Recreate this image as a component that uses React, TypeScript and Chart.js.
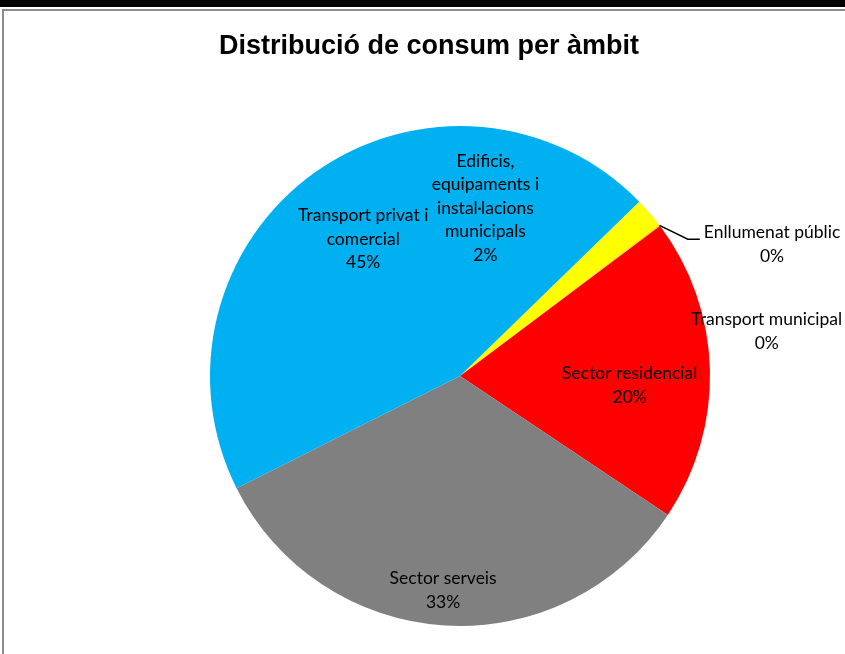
import React, { useEffect, useRef } from "react";
import { Chart, registerables } from "chart.js";

Chart.register(...registerables);

const TITLE = "Distribució de consum per àmbit";

const categories = [
  "Edificis, equipaments i instal·lacions municipals",
  "Enllumenat públic",
  "Transport municipal",
  "Sector residencial",
  "Sector serveis",
  "Transport privat i comercial",
];
const values = [1.95, 0.06, 0.03, 19.6, 33.2, 45.1];
const sliceColors = ["#FFFF00", "#FFC000", "#92D050", "#FF0000", "#808080", "#00B0F0"];

// wrapped label lines (as in the original chart)
const labelLines = [
  ["Edificis,", "equipaments i", "instal·lacions", "municipals"],
  ["Enllumenat públic"],
  ["Transport municipal"],
  ["Sector residencial"],
  ["Sector serveis"],
  ["Transport privat i", "comercial"],
];
// label placement: angle (deg clockwise from 12 o'clock) and radius factor
const labelAngles = [8.6, 67.1, 81.7, 93.2, 184.5, 324.7];
const labelRadii = [0.68, 1.355, 1.24, 0.68, 0.86, 0.67];
const labelLeader = [false, true, false, false, false, false];

const labelPlugin = {
  id: "sliceLabels",
  afterDatasetsDraw(chart: any) {
    const ctx = chart.ctx as CanvasRenderingContext2D;
    const meta = chart.getDatasetMeta(0);
    const total = values.reduce((a, b) => a + b, 0);
    ctx.save();
    ctx.font = "17.5px Lato";
    ctx.fillStyle = "#000";
    ctx.textAlign = "center";
    ctx.textBaseline = "middle";
    const lh = 23.5;
    meta.data.forEach((arc: any, i: number) => {
      const { x, y, outerRadius, startAngle, endAngle } = arc.getProps(
        ["x", "y", "outerRadius", "startAngle", "endAngle"],
        true
      );
      const a = ((labelAngles[i] - 90) * Math.PI) / 180;
      const r = outerRadius * labelRadii[i];
      const cx = x + Math.cos(a) * r;
      const cy = y + Math.sin(a) * r;
      const lines = [...labelLines[i], Math.round((values[i] / total) * 100) + "%"];
      const top = cy - ((lines.length - 1) * lh) / 2;
      lines.forEach((t, k) => ctx.fillText(t, cx, top + k * lh));
      if (labelLeader[i]) {
        const mid = (startAngle + endAngle) / 2;
        const sx = x + Math.cos(mid) * outerRadius;
        const sy = y + Math.sin(mid) * outerRadius;
        const w = Math.max(...lines.map((t) => ctx.measureText(t).width));
        const ex = cx - w / 2 - 4;
        const ey = cy - 5;
        ctx.beginPath();
        ctx.moveTo(sx, sy);
        ctx.lineTo(ex - 12, ey);
        ctx.lineTo(ex, ey);
        ctx.strokeStyle = "#000";
        ctx.lineWidth = 1.5;
        ctx.stroke();
      }
    });
    ctx.font = "bold 27px 'Liberation Sans', Arial, sans-serif";
    ctx.fillText(TITLE, chart.width / 2, 36);
    ctx.restore();
  },
};

export default function App() {
  const ref = useRef<HTMLCanvasElement | null>(null);
  useEffect(() => {
    if (!ref.current) return;
    const chart = new Chart(ref.current, {
      type: "pie",
      data: {
        labels: categories,
        datasets: [
          {
            data: values,
            backgroundColor: sliceColors,
            borderWidth: 0,
          },
        ],
      },
      options: {
        responsive: false,
        animation: false,
        rotation: 45.8,
        layout: { padding: { left: 206, right: 144, top: 115, bottom: 28 } },
        plugins: {
          legend: { display: false },
          tooltip: { enabled: false },
          title: { display: false },
        },
      },
      plugins: [labelPlugin],
    });
    return () => chart.destroy();
  }, []);
  return (
    <div
      style={{
        position: "fixed",
        left: 0,
        top: 0,
        width: 845,
        height: 654,
        overflow: "hidden",
        background: "#fff",
      }}
    >
      <div style={{ position: "absolute", left: 0, top: 0, width: 845, height: 7, background: "#000" }} />
      <div
        style={{
          position: "absolute",
          left: 2,
          top: 9,
          width: 900,
          height: 700,
          borderTop: "2px solid #8c8c8c",
          borderLeft: "2px solid #8c8c8c",
        }}
      />
      <canvas
        ref={ref}
        width={850}
        height={643}
        style={{ position: "absolute", left: 4, top: 11, width: 850, height: 643 }}
      />
    </div>
  );
}
